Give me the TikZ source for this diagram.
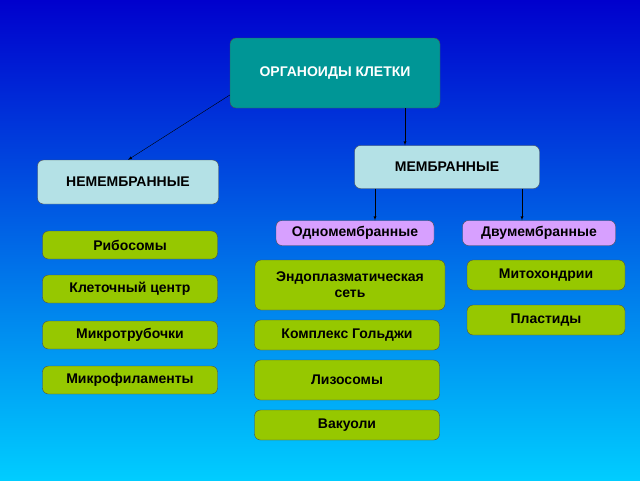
\documentclass[tikz,border=0pt]{standalone}
\usepackage{fontspec}
\setmainfont{Liberation Sans}
\begin{document}
\begin{tikzpicture}[x=1pt,y=-1pt,
 box/.style={draw=black!70,rounded corners=6pt,font=\bfseries\fontsize{14}{16}\selectfont,align=center,inner sep=0pt},
 grn/.style={box,fill={rgb,255:red,150;green,200;blue,0}},
 vio/.style={box,fill={rgb,255:red,215;green,160;blue,255},minimum height=25pt,minimum width=158pt},
 arr/.style={-latex,black}]
\shade[top color={rgb,255:red,0;green,0;blue,205},bottom color={rgb,255:red,0;green,205;blue,255}] (0,0) rectangle (640,480);
\useasboundingbox (0,0) rectangle (640,480);
\node[box,fill={rgb,255:red,0;green,150;blue,150},text=white,minimum width=210pt,minimum height=70pt] (top) at (335,73) {ОРГАНОИДЫ КЛЕТКИ};
\node[box,fill={rgb,255:red,180;green,225;blue,230},minimum width=185pt,minimum height=43pt] (mem) at (447,167) {МЕМБРАННЫЕ};
\node[box,fill={rgb,255:red,180;green,225;blue,230},minimum width=181pt,minimum height=44pt] (nem) at (128,182) {НЕМЕМБРАННЫЕ};
\node[vio] (odn) at (355,233) {Одномембранные};
\node[vio,minimum width=153pt] (dvu) at (539,233) {Двумембранные};
\foreach \n/\y/\t in {r/245/Рибосомы,k/289/Клеточный центр,m/335/Микротрубочки,f/380/Микрофиламенты}
  \node[grn,minimum width=175pt,minimum height=28pt] (\n) at (130,\y) {\t};
\node[grn,minimum width=190pt,minimum height=50pt] (eps) at (350,285) {Эндоплазматическая\\сеть};
\node[grn,minimum width=185pt,minimum height=30pt] (gol) at (347,335) {Комплекс Гольджи};
\node[grn,minimum width=185pt,minimum height=40pt] (liz) at (347,380) {Лизосомы};
\node[grn,minimum width=185pt,minimum height=30pt] (vak) at (347,425) {Вакуоли};
\node[grn,minimum width=158pt,minimum height=30pt] (mit) at (546,275) {Митохондрии};
\node[grn,minimum width=158pt,minimum height=30pt] (pla) at (546,320) {Пластиды};
\draw[arr] (top.west|-0,95) -- (nem.north);
\coordinate (a1) at (405,0);
\draw[arr] (top.south-|a1) -- (mem.north-|a1);
\coordinate (a2) at (375,0); \coordinate (a3) at (522,0);
\draw[arr] (mem.south-|a2) -- (odn.north-|a2);
\draw[arr] (mem.south-|a3) -- (dvu.north-|a3);
\end{tikzpicture}
\end{document}
